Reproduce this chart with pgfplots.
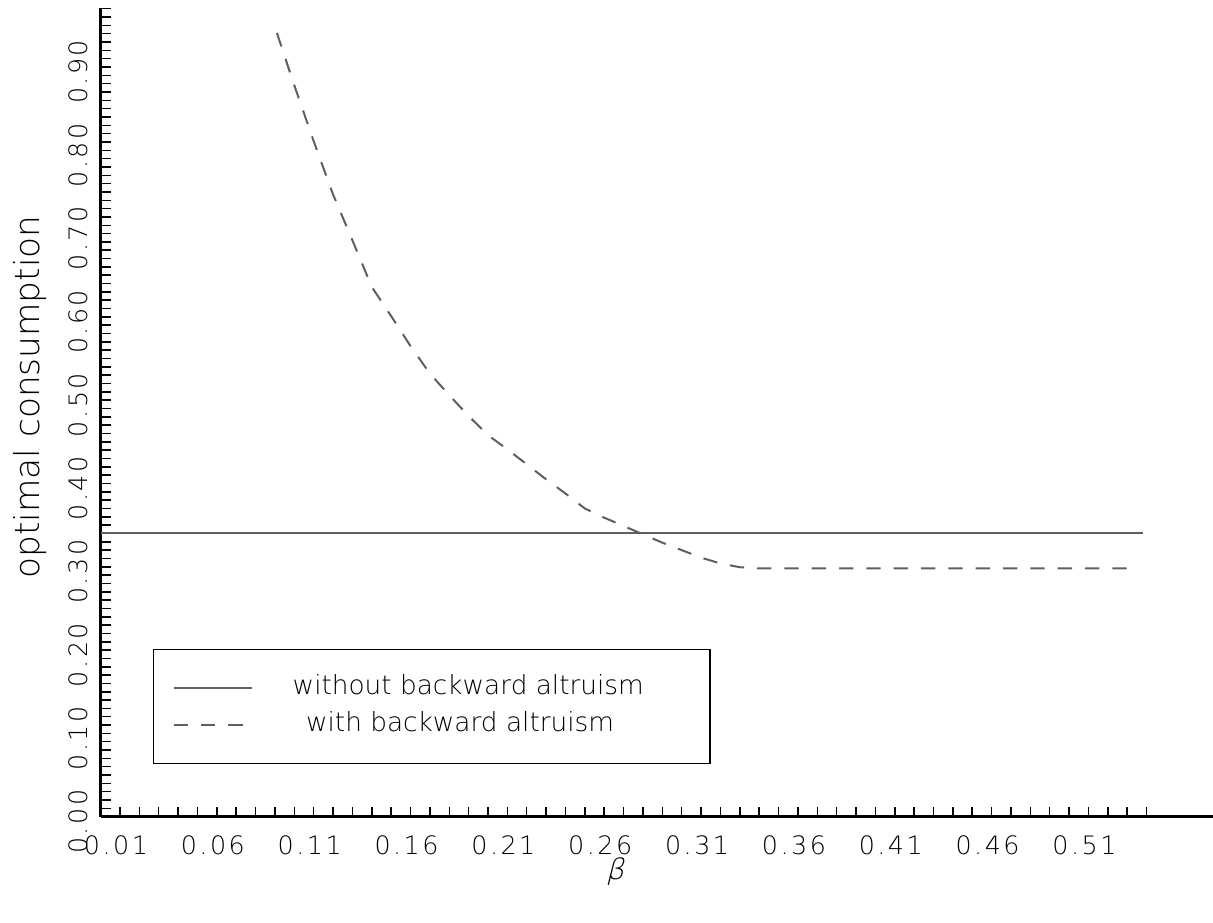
\documentclass[border=0pt]{standalone}
\usepackage{pgfplots}
\pgfplotsset{compat=1.18}
\usepackage{fontspec}
\setmainfont{DejaVu Sans ExtraLight}
\newfontfamily\tickfont{DejaVu Sans ExtraLight}[LetterSpace=10]
\newfontfamily\betafont{DejaVu Sans ExtraLight}[FakeSlant=0.25]
\definecolor{ln}{RGB}{95,95,95}
\begin{document}
\begin{tikzpicture}
\begin{axis}[
  name=ax,
  scale only axis, width=333.72pt, height=242.61pt,
  xmin=0, xmax=0.5743, ymin=0, ymax=0.9708,
  axis lines*=left,
  axis line style={line width=0.9pt, black},
  tick align=inside,
  xtick align=inside, ytick align=inside,
  xtick={0.01,0.06,0.11,0.16,0.21,0.26,0.31,0.36,0.41,0.46,0.51},
  minor xtick={0.01,0.02,...,0.535},
  ytick={0,0.1,0.2,0.3,0.4,0.5,0.6,0.7,0.8,0.9},
  minor ytick={0,0.01,...,0.975},
  major tick length=3pt, minor tick length=3pt,
  tick style={black, line width=0.45pt},
  /pgf/number format/fixed,
  /pgf/number format/fixed zerofill,
  /pgf/number format/precision=2,
  /pgf/number format/assume math mode=true,
  xticklabel style={font=\tickfont\fontsize{7.6}{8}\selectfont, anchor=base, xshift=-1.2pt, yshift=-11.4pt, inner sep=0pt},
  yticklabel style={font=\tickfont\fontsize{7.6}{8}\selectfont, xshift=-3.9pt, yshift=-1.5pt, rotate=90, anchor=base, inner sep=0pt},
  xlabel={\betafont β},
  xlabel style={at={(axis description cs:0.4624,-0.0678)}, anchor=center, font=\fontsize{8.6}{10}\selectfont},
  ylabel={optimal consumption},
  ylabel style={at={(axis description cs:-0.0635,0.519)}, anchor=center, font=\fontsize{10.3}{12}\selectfont},
  legend image code/.code={\draw[#1] (0pt,0pt) -- (23.4pt,0pt);},
  legend style={at={(axis description cs:0.0471,0.0651)}, anchor=south west,
    draw=black, line width=0.45pt, inner xsep=5.7pt, inner ysep=7.5pt,
    nodes={inner sep=0pt, text height=6pt, text depth=2pt},
    column sep=12pt, row sep=3.1pt,
    font=\fontsize{7.9}{9}\selectfont},
]
\addplot[ln, line width=0.6pt] coordinates {(0,0.340) (0.538,0.340)};
\addlegendentry{\makebox[119.4pt][l]{without backward altruism}}
\addplot[ln, line width=0.6pt, dash pattern=on 4.3pt off 3.9pt] coordinates {
(0.091,0.941) (0.100,0.878) (0.110,0.811) (0.120,0.747) (0.130,0.692)
(0.140,0.636) (0.150,0.601) (0.160,0.565) (0.170,0.532) (0.180,0.506)
(0.190,0.481) (0.200,0.458) (0.210,0.441) (0.220,0.423) (0.230,0.405)
(0.240,0.388) (0.250,0.370) (0.260,0.359) (0.270,0.349) (0.280,0.339)
(0.290,0.329) (0.300,0.320) (0.310,0.311) (0.320,0.304) (0.330,0.2995)
(0.340,0.298) (0.530,0.298)};
\addlegendentry{\makebox[119.4pt][l]{\hspace{4pt}with backward altruism}}
\end{axis}
\pgfresetboundingbox
\useasboundingbox (-30.18pt,-31.59pt) rectangle (333.72pt,245.01pt);
\end{tikzpicture}
\end{document}
